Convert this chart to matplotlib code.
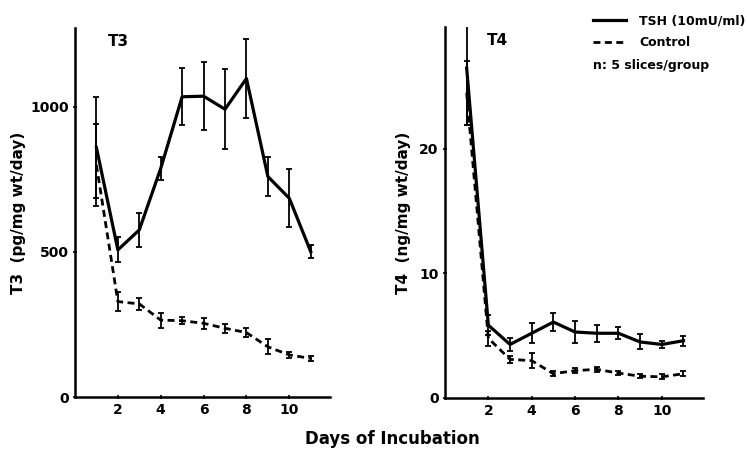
import numpy as np
import matplotlib
matplotlib.use("Agg")
import matplotlib.pyplot as plt
from matplotlib.lines import Line2D

plt.rcParams['font.family'] = ['DejaVu Sans']
plt.rcParams['font.weight'] = 'bold'

# days of incubation
days = [1, 2, 3, 4, 5, 6, 7, 8, 9, 10, 11]

# T3 (pg/mg wt/day)
t3_tsh = [860, 507, 576, 788, 1035, 1037, 992, 1098, 760, 685, 501]
t3_tsh_err = [175, 43, 60, 40, 98, 117, 138, 137, 66, 100, 22]
t3_ctrl = [800, 329, 321, 265, 263, 254, 237, 222, 173, 145, 133]
t3_ctrl_err = [140, 33, 20, 26, 12, 20, 15, 15, 26, 10, 8]

# T4 (ng/mg wt/day)
t4_tsh = [26.5, 5.85, 4.3, 5.2, 6.1, 5.3, 5.2, 5.2, 4.5, 4.3, 4.6]
t4_tsh_err = [4.6, 0.8, 0.5, 0.8, 0.7, 0.85, 0.7, 0.5, 0.6, 0.3, 0.4]
t4_ctrl = [24.5, 4.8, 3.1, 3.0, 1.95, 2.2, 2.3, 2.0, 1.75, 1.7, 1.95]
t4_ctrl_err = [2.6, 0.6, 0.3, 0.6, 0.2, 0.2, 0.2, 0.15, 0.15, 0.2, 0.2]

xticks = [2, 4, 6, 8, 10]
dash = (0, (2.5, 1.6))

fig = plt.figure(figsize=(7.47, 4.49), dpi=100)
ax1 = fig.add_axes([0.1004, 0.1158, 0.3414, 0.8218])
ax2 = fig.add_axes([0.5957, 0.1136, 0.3454, 0.8263])


def draw_panel(ax, tsh, tsh_err, ctrl, ctrl_err, ymax, yticks, ylabel, title, tx, lp):
    ax.errorbar(days, tsh, yerr=tsh_err, color='black', lw=2.3,
                elinewidth=1.3, capsize=2, capthick=1.3)
    ax.errorbar(days, ctrl, yerr=ctrl_err, color='black', lw=2.0, ls=dash,
                elinewidth=1.3, capsize=2, capthick=1.3)
    ax.set_xlim(0, 11.9)
    ax.set_ylim(0, ymax)
    ax.set_xticks(xticks)
    ax.set_yticks(yticks)
    ax.spines['top'].set_visible(False)
    ax.spines['right'].set_visible(False)
    for s in ['left', 'bottom']:
        ax.spines[s].set_linewidth(1.8)
    ax.tick_params(direction='inout', length=3, width=1.2, labelsize=10, pad=3)
    ax.set_ylabel(ylabel, fontsize=11, fontweight='bold', labelpad=lp)
    ax.text(tx, 0.985, title, transform=ax.transAxes, fontsize=11,
            fontweight='bold', va='top', ha='center')


draw_panel(ax1, t3_tsh, t3_tsh_err, t3_ctrl, t3_ctrl_err, 1272, [0, 500, 1000],
           'T3  (pg/mg wt/day)', 'T3', 0.17, 3)
draw_panel(ax2, t4_tsh, t4_tsh_err, t4_ctrl, t4_ctrl_err, 29.8, [0, 10, 20],
           'T4  (ng/mg wt/day)', 'T4', 0.205, 6)

handles = [Line2D([], [], color='black', lw=2.3),
           Line2D([], [], color='black', lw=2.0, ls=dash)]
fig.legend(handles, ['TSH (10mU/ml)', 'Control'], loc='upper left',
           bbox_to_anchor=(0.794, 0.968), frameon=False, fontsize=9,
           handlelength=2.6, handletextpad=1.1, labelspacing=0.7,
           borderpad=0, borderaxespad=0)
fig.text(0.794, 0.855, 'n: 5 slices/group', fontsize=9, fontweight='bold', va='center')

fig.text(0.525, 0.012, 'Days of Incubation', fontsize=12, fontweight='bold', ha='center')

fig.savefig('out.png', dpi=100)
